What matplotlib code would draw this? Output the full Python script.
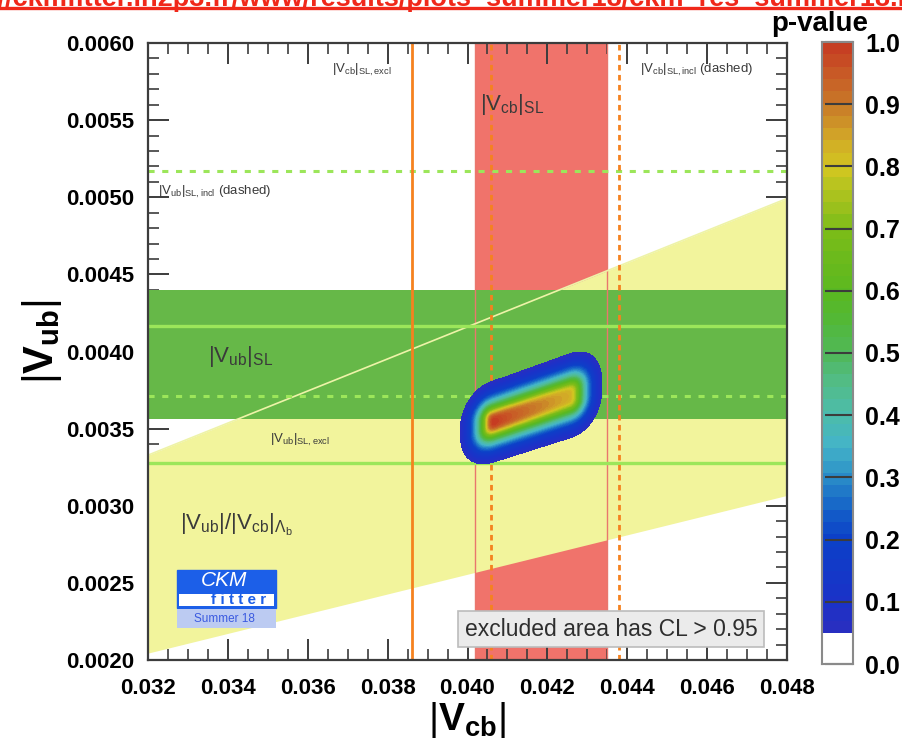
import math
import numpy as np
import matplotlib
matplotlib.use("Agg")
import matplotlib.pyplot as plt
from matplotlib.colors import LinearSegmentedColormap
from matplotlib.patches import Rectangle
from matplotlib.lines import Line2D
from matplotlib.ticker import MultipleLocator, FixedLocator

plt.rcParams['font.family'] = ['Liberation Sans', 'DejaVu Sans']
plt.rcParams['mathtext.fontset'] = 'custom'
plt.rcParams['mathtext.rm'] = 'Liberation Sans'
plt.rcParams['mathtext.bf'] = 'Liberation Sans:bold'
plt.rcParams['mathtext.it'] = 'Liberation Sans:italic'
plt.rcParams['mathtext.sf'] = 'Liberation Sans'

# ---------------- data ----------------
x_range = [0.032, 0.048]
y_range = [0.0020, 0.0060]
x_ticks = [0.032, 0.034, 0.036, 0.038, 0.040, 0.042, 0.044, 0.046, 0.048]
y_ticks = [0.0020, 0.0025, 0.0030, 0.0035, 0.0040, 0.0045, 0.0050, 0.0055, 0.0060]

vcb_sl_band = [0.0402, 0.0435]          # |Vcb|_SL (red band)
vcb_excl_lines = [0.0386]               # solid orange
vcb_incl_lines = [0.0406, 0.0438]       # dashed orange
vub_sl_band = [0.00356, 0.00440]        # |Vub|_SL (green band)
vub_excl_lines = [0.003275, 0.004167]   # solid light green
vub_incl_lines = [0.003713, 0.005172]   # dashed light green
ratio_band = [0.0639, 0.104]            # |Vub|/|Vcb| from Lambda_b (yellow wedge)

# combined fit inputs: centre, half-width of flat (theory) range, gaussian sigma
fit_vcb = [0.0416, 0.0010, 0.00040]
fit_ratio = [0.0872, 0.00075, 0.0029]
fit_vcb_pull = [0.0395, 0.0119]

pvalue_ticks = [0.0, 0.1, 0.2, 0.3, 0.4, 0.5, 0.6, 0.7, 0.8, 0.9, 1.0]
cmap_pos = [0.05, 0.10, 0.20, 0.25, 0.30, 0.35, 0.40, 0.45, 0.50, 0.55, 0.60,
            0.70, 0.75, 0.80, 0.85, 0.90, 0.95, 1.00]
cmap_col = ['#2a2ec0', '#1a32c8', '#0c40c8', '#1462c8', '#2a8cc8', '#44b4c8',
            '#4cbcac', '#52bc8a', '#50b85a', '#52b838', '#5ab820', '#7cbc18',
            '#a6c21e', '#d2c620', '#d2a628', '#c87a28', '#c85a26', '#c63a22']
cl_cut = 0.05

# ---------------- figure ----------------
W, H = 903, 753
fig = plt.figure(figsize=(W / 100, H / 100), dpi=100)
axl, axr, axt, axb = 148, 787, 43, 660
ax = fig.add_axes([axl / W, 1 - axb / H, (axr - axl) / W, (axb - axt) / H])
ax.set_xlim(*x_range)
ax.set_ylim(*y_range)

red = '#f0736b'
green = '#66b848'
yellow = '#f2f49c'
lgreen = '#9ce65a'
orange = '#f5821f'

ax.axvspan(vcb_sl_band[0], vcb_sl_band[1], color=red, lw=0, zorder=1)
xx = np.linspace(x_range[0], x_range[1], 200)
ax.fill_between(xx, ratio_band[0] * xx, ratio_band[1] * xx, color=yellow, lw=0, zorder=2)
ax.axhspan(vub_sl_band[0], vub_sl_band[1], color=green, lw=0, zorder=3)
for v in vcb_sl_band:
    ax.axvline(v, color='#e9776d', lw=1.0, zorder=4)
ax.plot(xx, ratio_band[1] * xx, color='#eef3a8', lw=1.2, zorder=4)
for v in vub_excl_lines:
    ax.axhline(v, color=lgreen, lw=2.4, zorder=5)
for v in vub_incl_lines:
    ax.axhline(v, color=lgreen, lw=2.2, ls=(0, (2, 2.5)), zorder=5)
for v in vcb_excl_lines:
    ax.axvline(v, color=orange, lw=2.0, zorder=5)
for v in vcb_incl_lines:
    ax.axvline(v, color=orange, lw=2.0, ls=(0, (2, 1.6)), zorder=5)

# p-value map of the combined fit (Rfit-like chi2, 1 d.o.f. p-value)
gx = np.linspace(x_range[0], x_range[1], 640)
gy = np.linspace(y_range[0], y_range[1], 620)
X, Y = np.meshgrid(gx, gy)


def rfit(v, c, h, s):
    d = np.maximum(np.abs(v - c) - h, 0.0) / s
    return d ** 2


chi2 = (rfit(X, *fit_vcb) + rfit(Y / X, *fit_ratio)
        + ((X - fit_vcb_pull[0]) / fit_vcb_pull[1]) ** 2)
dchi2 = chi2 - chi2.min()
erfc = np.vectorize(math.erfc)
P = erfc(np.sqrt(np.minimum(dchi2, 30.0) / 2.0))

# light smoothing of the scan (finite scan resolution look)
k = np.exp(-0.5 * (np.arange(-6, 7) / 2.5) ** 2)
k /= k.sum()
P = np.apply_along_axis(lambda r: np.convolve(r, k, mode='same'), 1, P)
P = np.apply_along_axis(lambda c: np.convolve(c, k, mode='same'), 0, P)
P = P / P.max()
P = np.ma.masked_less(P, cl_cut)

cmap = LinearSegmentedColormap.from_list(
    'ckm', [((p - cmap_pos[0]) / (1 - cmap_pos[0]), c) for p, c in zip(cmap_pos, cmap_col)])
levels = np.linspace(cl_cut, 1.0, 77)
ax.contourf(X, Y, P, levels=levels, cmap=cmap, vmin=cl_cut, vmax=1.0, zorder=6)

# ticks
ax.xaxis.set_major_locator(FixedLocator(x_ticks))
ax.yaxis.set_major_locator(FixedLocator(y_ticks))
ax.xaxis.set_minor_locator(MultipleLocator(0.0005))
ax.yaxis.set_minor_locator(MultipleLocator(0.0001))
ax.set_xticklabels(['%.3f' % t for t in x_ticks])
ax.set_yticklabels(['%.4f' % t for t in y_ticks])
ax.tick_params(which='both', direction='in', top=True, right=True, color='#3c3c3c')
ax.tick_params(which='major', length=15, width=1.4, labelsize=16)
ax.tick_params(axis='x', which='major', pad=13)
ax.tick_params(axis='y', which='major', pad=10)
ax.tick_params(which='minor', length=8, width=1.2)
for lab in ax.get_xticklabels() + ax.get_yticklabels():
    lab.set_fontweight('bold')
for s in ax.spines.values():
    s.set_color('#3c3c3c')
    s.set_linewidth(1.6)
    s.set_zorder(10)

# in-plot labels
tc = '#3a3a3a'
small = 9.5
big = 16
ax.text(0.03661, 0.005825, r'$|\mathrm{V}_{\mathrm{cb}}|_{\mathrm{SL,excl}}$',
        fontsize=small, color=tc, ha='left', va='center', zorder=8)
ax.text(0.04031, 0.00560, r'$|\mathrm{V}_{\mathrm{cb}}|_{\mathrm{SL}}$',
        fontsize=big, color=tc, ha='left', va='center', zorder=8)
ax.text(0.04432, 0.005825, r'$|\mathrm{V}_{\mathrm{cb}}|_{\mathrm{SL,incl}}$ (dashed)',
        fontsize=small, color=tc, ha='left', va='center', zorder=8)
ax.text(0.03225, 0.005034, r'$|\mathrm{V}_{\mathrm{ub}}|_{\mathrm{SL,incl}}$ (dashed)',
        fontsize=small, color=tc, ha='left', va='center', zorder=8)
ax.text(0.03350, 0.00397, r'$|\mathrm{V}_{\mathrm{ub}}|_{\mathrm{SL}}$',
        fontsize=big, color=tc, ha='left', va='center', zorder=8)
ax.text(0.03505, 0.003426, r'$|\mathrm{V}_{\mathrm{ub}}|_{\mathrm{SL,excl}}$',
        fontsize=small, color=tc, ha='left', va='center', zorder=8)
ax.text(0.03280, 0.002875,
        r'$|\mathrm{V}_{\mathrm{ub}}|/|\mathrm{V}_{\mathrm{cb}}|_{\Lambda_{\mathrm{b}}}$',
        fontsize=big, color=tc, ha='left', va='center', zorder=8)


# CKMfitter logo (pixel placement converted to axes fraction)
def axf(px, py):
    return ((px - axl) / (axr - axl), (axb - py) / (axb - axt))


logo_blue = '#1c5fe8'
x0, y0 = axf(177, 608)
x1, y1 = axf(276, 570)
ax.add_patch(Rectangle((x0, y0), x1 - x0, y1 - y0, transform=ax.transAxes,
                       fc=logo_blue, ec=logo_blue, lw=1, zorder=8))
sx0, sy0 = axf(179, 606)
sx1, sy1 = axf(274, 594)
ax.add_patch(Rectangle((sx0, sy0), sx1 - sx0, sy1 - sy0, transform=ax.transAxes,
                       fc='white', ec='none', zorder=8))
lx0, ly0 = axf(177, 628)
lx1, ly1 = axf(276, 609)
ax.add_patch(Rectangle((lx0, ly0), lx1 - lx0, ly1 - ly0, transform=ax.transAxes,
                       fc='#bccbf2', ec='none', zorder=8))
cx, cy = axf(224, 581)
ax.text(cx, cy, 'CKM', transform=ax.transAxes, color='white', fontsize=15,
        style='italic', ha='center', va='center', zorder=9)
fx, fy = axf(239, 600)
ax.text(fx, fy, 'f i t t e r', transform=ax.transAxes, color=logo_blue, fontsize=11,
        fontweight='bold', ha='center', va='center', zorder=9)
mx, my = axf(224, 619)
ax.text(mx, my, 'Summer 18', transform=ax.transAxes, color='#3a5ae0', fontsize=8.5,
        ha='center', va='center', zorder=9)

# excluded-area box
ex, ey = axf(611, 629)
ax.text(ex, ey, 'excluded area has CL > 0.95', transform=ax.transAxes,
        fontsize=16.5, color='#2e2e2e', ha='center', va='center', zorder=9,
        bbox=dict(boxstyle='square,pad=0.28', fc='#ebebeb', ec='#bcbcbc', lw=1.2))

# axis titles
fig.text(42 / W, 1 - 342 / H, r'$|\mathbf{V}_{\mathbf{ub}}|$', rotation=90,
         fontsize=30, ha='center', va='center')
fig.text(467 / W, 1 - 720 / H, r'$|\mathbf{V}_{\mathbf{cb}}|$',
         fontsize=28, ha='center', va='center')

# colour bar
cl, cr, ct, cbm = 822, 853, 42, 664
cax = fig.add_axes([cl / W, 1 - cbm / H, (cr - cl) / W, (cbm - ct) / H])
cax.set_xlim(0, 1)
cax.set_ylim(0, 1)
cax.axhspan(0, cl_cut, color='white', lw=0)
bar_levels = np.linspace(cl_cut, 1.0, 49)
for lo, hi in zip(bar_levels[:-1], bar_levels[1:]):
    cax.axhspan(lo, hi, color=cmap((0.5 * (lo + hi) - cl_cut) / (1 - cl_cut)), lw=0)
cax.set_xticks([])
cax.yaxis.tick_right()
cax.set_yticks(pvalue_ticks)
cax.set_yticklabels(['%.1f' % t for t in pvalue_ticks])
cax.tick_params(axis='y', direction='in', length=20, width=1.5, color='#3c3c3c',
                labelsize=18, pad=9)
for lab in cax.get_yticklabels():
    lab.set_fontweight('bold')
for s in cax.spines.values():
    s.set_color('#8a8a8a')
    s.set_linewidth(1.5)
fig.text(820 / W, 1 - 31 / H, 'p-value', fontsize=20, fontweight='bold',
         ha='center', va='baseline')

# clipped URL header
fig.text(-27.6 / W, 1 - 6 / H,
         'p://ckmfitter.in2p3.fr/www/results/plots_summer18/ckm_res_summer18.html',
         fontsize=19.5, fontweight='bold', color='#f0281a', ha='left', va='baseline')
fig.add_artist(Line2D([0, 1], [1 - 7.5 / H, 1 - 7.5 / H], transform=fig.transFigure,
                      color='#f0281a', lw=2.4))

fig.savefig('out.png', dpi=100)
